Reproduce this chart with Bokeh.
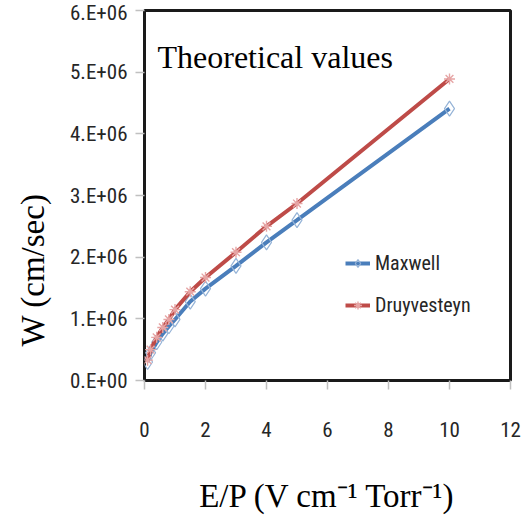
from bokeh.plotting import figure
from bokeh.models import Range1d, FixedTicker, CustomJSTickFormatter, Label, Legend, LegendItem, Title
from bokeh.embed import file_html
from bokeh.resources import INLINE

# ---------------- data ----------------
ep = [0.1, 0.2, 0.4, 0.6, 0.8, 1.0, 1.5, 2, 3, 4, 5, 10]
maxwell = [0.30e6, 0.45e6, 0.62e6, 0.76e6, 0.88e6, 0.99e6, 1.28e6, 1.49e6, 1.86e6, 2.24e6, 2.60e6, 4.41e6]
druyvesteyn = [0.33e6, 0.50e6, 0.70e6, 0.86e6, 0.99e6, 1.15e6, 1.44e6, 1.67e6, 2.08e6, 2.50e6, 2.87e6, 4.89e6]
x_ticks = [0, 2, 4, 6, 8, 10, 12]
y_ticks = [0, 1e6, 2e6, 3e6, 4e6, 5e6, 6e6]
series_names = ["Maxwell", "Druyvesteyn"]
title_text = "Theoretical values"
y_label_text = "W (cm/sec)"
x_label_text = "E/P (V cm\u207b\u00b9 Torr\u207b\u00b9)"

# ---------------- geometry ----------------
FL, FT, FW, FH = 136, 10, 366, 370
W, H = 524, 512
X0, X1, Y0, Y1 = 0, 12, 0, 6e6

NARROW = "'Liberation Sans Narrow', 'Roboto Condensed', 'DejaVu Sans Condensed', sans-serif"
SERIF = "Liberation Serif"

p = figure(output_backend="svg", toolbar_location=None,
           frame_width=FW, frame_height=FH,
           min_border_left=0, min_border_top=FT,
           min_border_right=W - FL - FW, min_border_bottom=H - FT - FH,
           x_range=Range1d(X0, X1), y_range=Range1d(Y0, Y1))
p.grid.visible = False
p.background_fill_color = "white"
p.border_fill_color = "white"
p.outline_line_color = "#1a1a1a"
p.outline_line_width = 3
p.outline_line_alpha = 1

for ax in (p.xaxis[0], p.yaxis[0]):
    ax.axis_line_color = None
    ax.major_tick_in = 0
    ax.major_tick_out = 9
    ax.major_tick_line_color = "#c0c0c0"
    ax.major_tick_line_width = 1.5
    ax.minor_tick_line_color = None
    ax.major_label_text_font = NARROW
    ax.major_label_text_font_size = "21px"
    ax.major_label_text_color = "#262626"

p.xaxis.ticker = FixedTicker(ticks=x_ticks)
p.yaxis.ticker = FixedTicker(ticks=y_ticks)
p.xaxis.major_label_standoff = 32
p.yaxis.major_label_standoff = 8
p.yaxis.formatter = CustomJSTickFormatter(code="""
    const v = Math.round(tick / 1e6);
    return v === 0 ? "0.E+00" : v + ".E+06";
""")

p.xaxis.axis_label = x_label_text
p.xaxis.axis_label_text_font = SERIF
p.xaxis.axis_label_text_font_size = "33px"
p.xaxis.axis_label_text_font_style = "normal"
p.xaxis.axis_label_text_color = "black"
p.xaxis.axis_label_standoff = 38

p.add_layout(Title(text=y_label_text, text_font=SERIF, text_font_size="33px",
                   text_font_style="normal", text_color="black",
                   align="left", offset=34, standoff=28, vertical_align="top"), "left")

lm = p.line(ep, maxwell, line_color="#4a7ebb", line_width=4)
sm = p.scatter(ep, maxwell, marker="diamond", size=15, fill_color=None,
               line_color="#95b3d7", line_width=1.2)
ld = p.line(ep, druyvesteyn, line_color="#be4b48", line_width=4)
sd = p.scatter(ep, druyvesteyn, marker="asterisk", size=11,
               line_color="#e6a5a5", line_width=1.4)

legend = Legend(items=[LegendItem(label=series_names[0], renderers=[lm, sm]),
                       LegendItem(label=series_names[1], renderers=[ld, sd])],
                location=(201, 63), padding=0, margin=0, spacing=18,
                glyph_width=25, glyph_height=20, label_height=20, label_standoff=5,
                label_text_font=NARROW, label_text_font_size="20px",
                label_text_color="#262626",
                border_line_color=None, background_fill_alpha=0)
p.add_layout(legend)

p.add_layout(Label(x=X0, y=Y1, x_offset=13, y_offset=-46, text=title_text,
                   text_font=SERIF, text_font_size="32px", text_color="black",
                   text_baseline="alphabetic", text_align="left"))

open("out.html", "w").write(file_html(p, INLINE))
